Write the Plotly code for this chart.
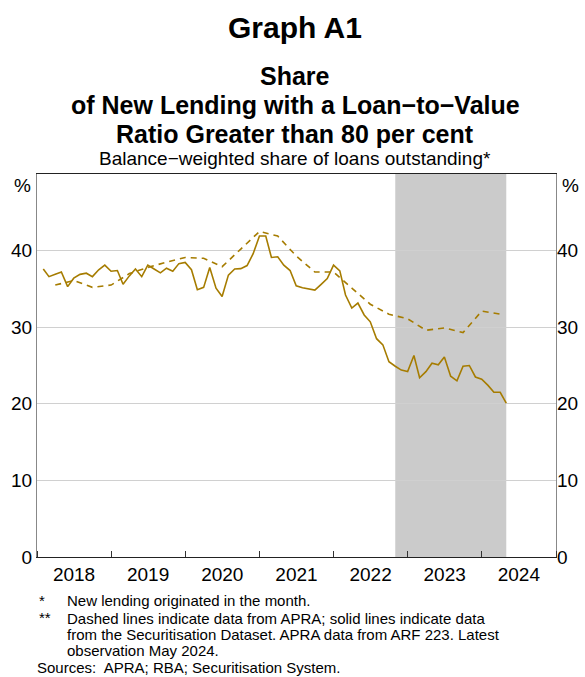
import pandas as pd
import plotly.graph_objects as go

# Securitisation Dataset (monthly, solid) -- Jan 2018 .. Apr 2024, plotted at month end
securitisation_values = [
    37.6, 36.6, 36.9, 37.2, 35.3, 36.4, 36.9, 37.05, 36.6, 37.5, 38.1, 37.3,
    37.4, 35.6, 36.7, 37.6, 36.6, 38.1, 37.6, 37.1, 37.7, 37.3, 38.3, 38.45,
    37.5, 34.9, 35.2, 37.8, 35.1, 34.0, 36.8, 37.6, 37.65, 38.05, 39.6, 41.9,
    41.9, 39.1, 39.2, 38.1, 37.4, 35.4, 35.15, 35.0, 34.85, 35.6, 36.35, 38.1,
    37.35, 34.2, 32.5, 33.15, 31.6, 30.7, 28.5, 27.7, 25.5, 24.9, 24.4, 24.2,
    26.3, 23.4, 24.2, 25.3, 25.1, 26.1, 23.6, 23.0, 24.9, 25.0, 23.5, 23.2,
    22.4, 21.5, 21.5, 20.1,
]
securitisation_dates = pd.date_range("2018-02-01", periods=len(securitisation_values), freq="MS")

# APRA (quarterly, dashed) -- Q1 2018 .. Q1 2024, plotted at quarter end
apra_values = [
    35.5, 36.1, 35.2, 35.5,
    37.0, 37.8, 38.5, 39.1,
    39.0, 37.9, 40.2, 42.5,
    41.9, 39.3, 37.2, 37.2,
    35.1, 33.0, 31.7, 31.1,
    29.6, 29.9, 29.3, 32.1,
    31.7,
]
apra_dates = pd.date_range("2018-04-01", periods=len(apra_values), freq="3MS")

shade_start = "2022-11-01"
shade_end = "2024-05-01"

y_ticks = [0, 10, 20, 30, 40]
x_range = ["2018-01-01", "2025-01-01"]

LINE = "#A67C00"
FONT = "Liberation Sans, Arial, sans-serif"

fig = go.Figure()
fig.add_trace(go.Scatter(
    x=securitisation_dates, y=securitisation_values, mode="lines",
    line=dict(color=LINE, width=1.6), showlegend=False, hoverinfo="skip",
))
fig.add_trace(go.Scatter(
    x=apra_dates, y=apra_values, mode="lines", yaxis="y2",
    line=dict(color=LINE, width=1.6, dash="6px,5px"), showlegend=False, hoverinfo="skip",
))

fig.add_shape(type="rect", xref="x", yref="paper", x0=shade_start, x1=shade_end,
              y0=0, y1=1, fillcolor="#CBCBCB", line=dict(width=0), layer="below")

L, R, T, B = 37, 29, 174, 120
PH = 677 - T - B
PW = 585 - L - R

def py(ypix):
    return (677 - B - ypix) / PH

def px(xpix):
    return (xpix - L) / PW

ann = []
def add(text, x, y, size, bold=False, xanchor="center", pad=1):
    ann.append(dict(text=f"<b>{text}</b>" if bold else text, xref="paper", yref="paper",
                    x=px(x), y=py(y), xanchor=xanchor, yanchor="middle", showarrow=False,
                    borderpad=pad,
                    font=dict(family=FONT, size=size, color="black")))

add("Graph A1", 295, 27, 30, bold=True)
add("Share", 295, 76, 25, bold=True)
add("of New Lending with a Loan−to−Value", 295, 105, 25, bold=True)
add("Ratio Greater than 80 per cent", 295, 134, 25, bold=True)
add("Balance−weighted share of loans outstanding*", 295, 158, 19)
add("%", 22, 185, 19)
add("%", 570, 185, 19)
FN = 15
add("*", 38, 600, FN, xanchor="left", pad=0)
add("New lending originated in the month.", 66, 600, FN, xanchor="left", pad=0)
add("**", 38, 617, FN, xanchor="left", pad=0)
add("Dashed lines indicate data from APRA; solid lines indicate data", 66, 618, FN, xanchor="left", pad=0)
add("from the Securitisation Dataset. APRA data from ARF 223. Latest", 66, 634, FN, xanchor="left", pad=0)
add("observation May 2024.", 66, 650, FN, xanchor="left", pad=0)
add("Sources:  APRA; RBA; Securitisation System.", 36, 667, FN, xanchor="left", pad=0)

yaxis_common = dict(range=[0, 50], tickvals=y_ticks, ticks="", showgrid=True,
                    gridcolor="#D0D0D0", gridwidth=1, zeroline=False,
                    tickfont=dict(family=FONT, size=19, color="black"),
                    fixedrange=True)

fig.update_layout(
    width=585, height=677,
    margin=dict(l=L, r=R, t=T, b=B, autoexpand=False),
    paper_bgcolor="white", plot_bgcolor="white",
    font=dict(family=FONT, color="black"),
    annotations=ann,
    xaxis=dict(type="date", range=x_range, dtick="M12", tick0="2018-01-01",
               tickformat="%Y", ticklabelmode="period", ticks="inside", ticklen=6,
               tickcolor="#333333", showgrid=False, showline=True, mirror=True,
               linecolor="#222222", linewidth=1.3, zeroline=False,
               tickfont=dict(family=FONT, size=19, color="black")),
    yaxis=dict(**yaxis_common, showline=True, linecolor="#888888", linewidth=1.3,
               mirror=True, side="left"),
    yaxis2=dict(**yaxis_common, overlaying="y", side="right", showline=False),
)

fig.write_html("out.html", config={"displayModeBar": False},
               post_script="document.body.style.margin='0';document.body.style.padding='0';")
